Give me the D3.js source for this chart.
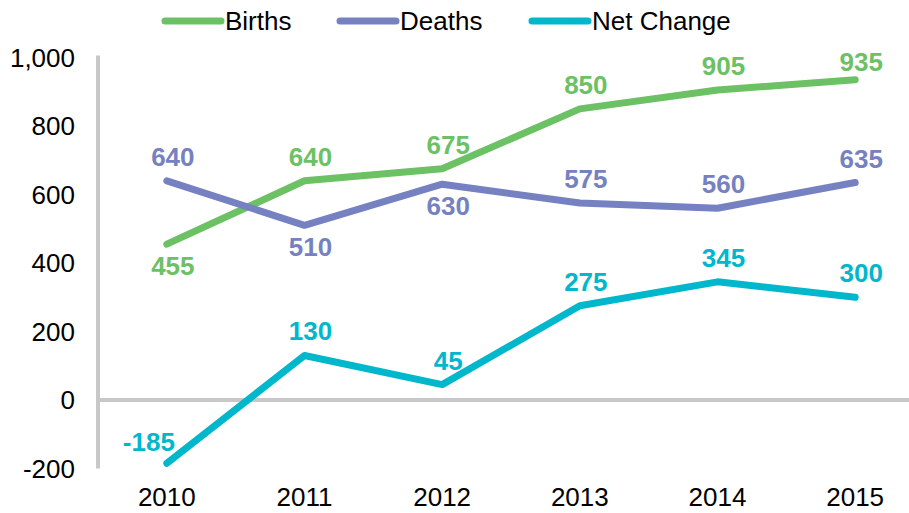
<!DOCTYPE html>
<html>
<head>
<meta charset="utf-8">
<script src="https://cdn.jsdelivr.net/npm/d3@7"></script>
<style>
  body { margin: 0; background: #fff; }
  svg text { font-family: "Liberation Sans", Arial, sans-serif; }
</style>
</head>
<body>
<svg id="chart" width="909" height="513"></svg>
<script>
var years = ['2010', '2011', '2012', '2013', '2014', '2015'];
var births = [455, 640, 675, 850, 905, 935];
var deaths = [640, 510, 630, 575, 560, 635];
var netChange = [-185, 130, 45, 275, 345, 300];
var yTicks = [-200, 0, 200, 400, 600, 800, 1000];

// where each data label sits relative to its point
var birthsPos = ['below', 'above', 'above', 'above', 'above', 'above'];
var deathsPos = ['above', 'below', 'below', 'above', 'above', 'above'];
var netPos = ['left', 'above', 'above', 'above', 'above', 'above'];

var series = [
    {name: 'Births', values: births, pos: birthsPos, color: '#6cc164'},
    {name: 'Deaths', values: deaths, pos: deathsPos, color: '#7681c1'},
    {name: 'Net Change', values: netChange, pos: netPos, color: '#00b7cb'}
];

var svg = d3.select('#chart');
var fmt = d3.format(',');

var x = d3.scalePoint()
    .domain(years)
    .range([98, 924])
    .padding(0.5);

var y = d3.scaleLinear()
    .domain([-200, 1000])
    .range([468.5, 57.5]);

// y tick labels (plain hyphen for negatives, like the original)
svg.append('g').selectAll('text')
    .data(yTicks)
    .enter().append('text')
    .attr('x', 75)
    .attr('y', function(d) { return y(d); })
    .attr('dy', '0.35em')
    .attr('text-anchor', 'end')
    .attr('font-size', 26)
    .attr('fill', '#000')
    .text(function(d) { return fmt(d).replace('\u2212', '-'); });

// x tick labels
svg.append('g').selectAll('text')
    .data(years)
    .enter().append('text')
    .attr('x', function(d) { return x(d); })
    .attr('y', 506)
    .attr('text-anchor', 'middle')
    .attr('font-size', 26)
    .attr('fill', '#000')
    .text(function(d) { return d; });

// axis lines
svg.append('line')
    .attr('x1', 98).attr('x2', 98)
    .attr('y1', y(1000) - 2).attr('y2', y(-200))
    .attr('stroke', '#c8c8c8')
    .attr('stroke-width', 4);

svg.append('line')
    .attr('x1', 98).attr('x2', 909)
    .attr('y1', y(0)).attr('y2', y(0))
    .attr('stroke', '#c8c8c8')
    .attr('stroke-width', 4);

var line = d3.line()
    .x(function(d, i) { return x(years[i]); })
    .y(function(d) { return y(d); });

series.forEach(function(s) {
    svg.append('path')
        .datum(s.values)
        .attr('d', line)
        .attr('fill', 'none')
        .attr('stroke', s.color)
        .attr('stroke-width', 7)
        .attr('stroke-linecap', 'round')
        .attr('stroke-linejoin', 'round');
});

// data labels; labels above are kept inside the top of the plot
series.forEach(function(s) {
    svg.append('g').selectAll('text')
        .data(s.values)
        .enter().append('text')
        .attr('x', function(d, i) {
            return x(years[i]) + (s.pos[i] === 'left' ? -18 : 6);
        })
        .attr('y', function(d, i) {
            var p = s.pos[i];
            if (p === 'below') return y(d) + 31;
            if (p === 'left') return y(d) - 12;
            return Math.max(y(d) - 15, 71);
        })
        .attr('text-anchor', 'middle')
        .attr('font-size', 26)
        .attr('font-weight', 'bold')
        .attr('fill', s.color)
        .text(function(d) { return String(d); });
});

// legend
var legendX = [165, 340, 532];
var legend = svg.append('g').selectAll('g')
    .data(series)
    .enter().append('g')
    .attr('transform', function(d, i) { return 'translate(' + legendX[i] + ',21)'; });

legend.append('line')
    .attr('x1', 0).attr('x2', 56)
    .attr('y1', 0).attr('y2', 0)
    .attr('stroke', function(d) { return d.color; })
    .attr('stroke-width', 7)
    .attr('stroke-linecap', 'round');

legend.append('text')
    .attr('x', 60)
    .attr('y', 0)
    .attr('dy', '0.35em')
    .attr('font-size', 26)
    .attr('fill', '#000')
    .text(function(d) { return d.name; });
</script>
</body>
</html>
